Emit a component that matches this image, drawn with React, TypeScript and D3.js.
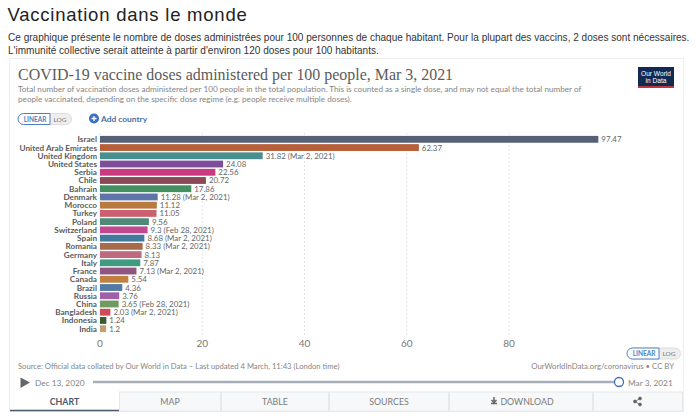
import * as React from "react"
import * as d3 from "d3"

const countries = ["Israel", "United Arab Emirates", "United Kingdom", "United States", "Serbia", "Chile", "Bahrain", "Denmark", "Morocco", "Turkey", "Poland", "Switzerland", "Spain", "Romania", "Germany", "Italy", "France", "Canada", "Brazil", "Russia", "China", "Bangladesh", "Indonesia", "India"]
const doses = [97.47, 62.37, 31.82, 24.08, 22.56, 20.72, 17.86, 11.28, 11.12, 11.05, 9.56, 9.3, 8.68, 8.33, 8.13, 7.87, 7.13, 5.54, 4.36, 3.76, 3.65, 2.03, 1.24, 1.2]
const dateNotes = ["", "", "Mar 2, 2021", "", "", "", "", "Mar 2, 2021", "", "", "", "Feb 28, 2021", "Mar 2, 2021", "Mar 2, 2021", "", "", "Mar 2, 2021", "", "", "", "Feb 28, 2021", "Mar 2, 2021", "", ""]
const barColors = ["#566176", "#b5603a", "#4a8f8f", "#7d4f9b", "#c93a80", "#8a4a55", "#429060", "#5f74a8", "#b97a3f", "#cc6070", "#4f8a78", "#c2488f", "#42799f", "#a86a4a", "#c06a80", "#3f9a7f", "#8f5580", "#c08040", "#527aa5", "#a060a8", "#6f9a60", "#d24a5a", "#3a5a30", "#c0a070"]
const xTicks = [0, 20, 40, 60, 80]
const tabs = ["CHART", "MAP", "TABLE", "SOURCES", "DOWNLOAD", ""]
const tabEdges = [10, 119, 221, 329, 449, 593, 683]

const LATO = "Lato, sans-serif"
const HELV = "'Liberation Sans', Arial, sans-serif"
const SERIF = "'Liberation Serif', serif"

const x = d3.scaleLinear().domain([0, 80]).range([100, 509])
const y = d3.scaleBand<string>().domain(countries).range([135.2, 332.8]).paddingInner(0.17).paddingOuter(0.085)

function ScaleToggle({ left, top }: { left: number, top: number }) {
    return (
        <g transform={`translate(${left},${top})`} fontFamily={LATO} fontSize={6.5} fontWeight={700}>
            <rect x={0.5} y={0.5} width={53} height={11} rx={5.5} fill="#eeeeee" stroke="#dddddd" />
            <path d="M5.5 0.5H32V11.5H5.5A5.5 5.5 0 0 1 5.5 0.5Z" fill="#ffffff" stroke="#4f7fc0" />
            <text x={17} y={8.5} textAnchor="middle" fill="#4f7fc0">LINEAR</text>
            <text x={42} y={8.5} textAnchor="middle" fill="#777777" fontWeight={400}>LOG</text>
        </g>
    )
}

export default function App() {
    return (
        <svg width={700} height={420} style={{ position: "absolute", left: 0, top: 0, background: "#fff" }}>
            <text x={7.5} y={21} fontFamily={HELV} fontSize={18.5} fill="#222" letterSpacing={0.77}>Vaccination dans le monde</text>
            <text x={8} y={40.5} fontFamily={HELV} fontSize={10.05} fill="#333">Ce graphique présente le nombre de doses administrées pour 100 personnes de chaque habitant. Pour la plupart des vaccins, 2 doses sont nécessaires.</text>
            <text x={8} y={53.5} fontFamily={HELV} fontSize={10.05} fill="#333">L'immunité collective serait atteinte à partir d'environ 120 doses pour 100 habitants.</text>

            <rect x={9.5} y={58.5} width={674} height={353} fill="#fff" stroke="#eeeeee" />

            <text x={18} y={80} fontFamily={SERIF} fontSize={15.95} fill="#5b5b5b">COVID-19 vaccine doses administered per 100 people, Mar 3, 2021</text>
            <text x={18} y={92} fontFamily={LATO} fontSize={8.17} fill="#858585">Total number of vaccination doses administered per 100 people in the total population. This is counted as a single dose, and may not equal the total number of</text>
            <text x={18} y={102} fontFamily={LATO} fontSize={8.17} fill="#858585">people vaccinated, depending on the specific dose regime (e.g. people receive multiple doses).</text>

            <rect x={638} y={67} width={36} height={21} fill="#112a53" />
            <rect x={638} y={86} width={36} height={2} fill="#c0363f" />
            <text x={656} y={75.5} textAnchor="middle" fontFamily={HELV} fontSize={6.6} fill="#fff">Our World</text>
            <text x={656} y={83} textAnchor="middle" fontFamily={HELV} fontSize={6.6} fill="#fff">in Data</text>

            <ScaleToggle left={18} top={113} />
            <circle cx={94} cy={118.5} r={5} fill="#3b6fc4" />
            <path d="M91.5 118.5H96.5M94 116V121" stroke="#fff" strokeWidth={1.3} />
            <text x={101} y={121.5} fontFamily={LATO} fontSize={8.4} fontWeight={700} fill="#4a6fa8">Add country</text>

            {xTicks.map(t => (
                <g key={t}>
                    <line x1={x(t)} x2={x(t)} y1={133} y2={336} stroke="#e2e2e2" strokeDasharray="2,2" />
                    <text x={x(t)} y={347} textAnchor="middle" fontFamily={LATO} fontSize={10} fill="#777">{t}</text>
                </g>
            ))}

            {countries.map((c, i) => {
                const top = y(c) as number
                const mid = top + y.bandwidth() / 2
                return (
                    <g key={c}>
                        <text x={97} y={mid + 3} textAnchor="end" fontFamily={LATO} fontSize={8.2} fontWeight={700} fill="#5b5b5b">{c}</text>
                        <rect x={x(0)} y={top} width={x(doses[i]) - x(0)} height={y.bandwidth()} fill={barColors[i]} />
                        <text x={x(doses[i]) + 3} y={mid + 3} fontFamily={LATO} fontSize={7.9} fill="#666">
                            {doses[i] + (dateNotes[i] ? ` (${dateNotes[i]})` : "")}
                        </text>
                    </g>
                )
            })}

            <ScaleToggle left={627} top={347.5} />
            <text x={18} y={369} fontFamily={LATO} fontSize={7.65} fill="#858585">Source: Official data collated by Our World in Data – Last updated 4 March, 11:43 (London time)</text>
            <text x={674} y={369} textAnchor="end" fontFamily={LATO} fontSize={7.75} fill="#858585">OurWorldInData.org/coronavirus • CC BY</text>

            <path d="M20.5 377.5L30 382.5L20.5 388Z" fill="#666" />
            <text x={35} y={385.5} fontFamily={LATO} fontSize={8.3} fill="#858585">Dec 13, 2020</text>
            <line x1={93} x2={619} y1={382} y2={382} stroke="#a8aeb8" strokeWidth={2.5} />
            <circle cx={619} cy={382} r={4.5} fill="#fff" stroke="#3f6fb0" strokeWidth={1.3} />
            <text x={628} y={385.5} fontFamily={LATO} fontSize={8.3} fill="#858585">Mar 3, 2021</text>

            {tabs.map((t, i) => {
                const x0 = tabEdges[i]
                const x1 = tabEdges[i + 1]
                const mid = (x0 + x1) / 2
                return (
                    <g key={i}>
                        <rect x={x0 + 0.5} y={392} width={x1 - x0 - 1} height={19} fill={i === 0 ? "#ffffff" : "#f6f8fa"} stroke={i === 0 ? "none" : "#e8e8e8"} />
                        <text x={i === 4 ? mid + 6 : mid} y={405} textAnchor="middle" fontFamily={LATO} fontSize={8.8} fill={i === 0 ? "#4a5a6c" : "#7a7a7a"} fontWeight={i === 0 ? 700 : 400}>{t}</text>
                    </g>
                )
            })}
            <line x1={10} x2={119} y1={410.5} y2={410.5} stroke="#4a5a6c" strokeWidth={1.5} />
            <path d="M491 403.5H497M494 397V402M491.5 400L494 402.5L496.5 400" stroke="#666" strokeWidth={1.5} fill="none" />
            <g fill="#666" stroke="#666">
                <circle cx={635} cy={401.5} r={1.4} />
                <circle cx={640} cy={398.5} r={1.4} />
                <circle cx={640} cy={404.5} r={1.4} />
                <path d="M640 398.5L635 401.5L640 404.5" fill="none" strokeWidth={0.8} />
            </g>
        </svg>
    )
}
